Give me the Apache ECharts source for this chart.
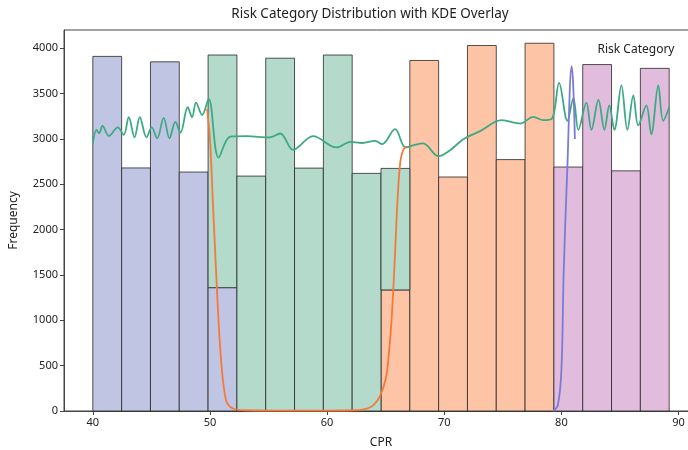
<!DOCTYPE html>
<html><head><meta charset="utf-8">
<script src="https://cdn.jsdelivr.net/npm/echarts@6/dist/echarts.min.js"></script>
<style>html,body{margin:0;padding:0;background:#fff;overflow:hidden}#c{width:688px;height:450px}</style>
</head><body><div id="c"></div>
<script>
// ---- data ----
const binEdges = [40, 42.46, 44.92, 47.38, 49.84, 52.30, 54.76, 57.22, 59.68, 62.14, 64.60,
                  67.06, 69.52, 71.98, 74.44, 76.90, 79.36, 81.82, 84.28, 86.74, 89.20];
const riskLevels = ['Low', 'Moderate', 'High', 'Critical'];
const lowCounts      = [3910, 2680, 3850, 2635, 1360, 0, 0, 0, 0, 0, 0, 0, 0, 0, 0, 0, 0, 0, 0, 0];
const moderateCounts = [0, 0, 0, 0, 2565, 2590, 3890, 2678, 3925, 2620, 1340, 0, 0, 0, 0, 0, 0, 0, 0, 0];
const highCounts     = [0, 0, 0, 0, 0, 0, 0, 0, 0, 0, 1335, 3865, 2580, 4030, 2772, 4055, 0, 0, 0, 0];
const criticalCounts = [0, 0, 0, 0, 0, 0, 0, 0, 0, 0, 0, 0, 0, 0, 0, 0, 2690, 3820, 2648, 3778];

const kdeGreen = [[40.00,2952],[40.32,3099],[40.54,3062],[40.83,3143],[41.37,3033],[42.13,3128],[42.64,3044],
  [43.07,3239],[43.56,3018],[44.01,3239],[44.58,3018],[45.03,3128],[45.49,3007],[46.05,3231],[46.54,3007],
  [47.05,3187],[47.48,3069],[48.10,3349],[48.47,3239],[48.81,3400],[49.33,3264],[49.89,3441],[50.74,2793],
  [51.74,3025],[53.2,3030],[54.3,3020],[55.1,3016],[56.0,3060],[57.1,2880],[58.8,3030],[60.8,2906],[62.0,2968],
  [63.0,2955],[64.1,2979],[64.7,2942],[65.8,3107],[66.7,2906],[67.4,2931],[68.2,2950],[69.5,2810],[70.5,2876],
  [71.6,2994],[73.1,3089],[74.9,3207],[76.5,3170],[77.6,3243],[78.45,3207],[79.2,3225],[79.8,3618],[80.51,3200],
  [81.02,3450],[81.45,3100],[82.13,3400],[82.56,3100],[83.16,3430],[83.67,3100],[84.09,3370],[84.52,3100],
  [85.12,3590],[85.63,3100],[86.14,3480],[86.56,3150],[87.25,3370],[87.67,3050],[88.27,3590],[88.69,3200],[89.2,3350]];
const kdeOrange = [[49.75,3330],[50.0,3000],[50.25,2300],[50.5,1600],[50.75,950],[51.0,480],[51.25,200],[51.5,80],
  [52.0,25],[53.0,8],[55.0,5],[60.0,5],[62.5,8],[63.0,15],[63.5,30],[64.0,70],[64.5,160],[65.0,350],[65.25,600],
  [65.5,1000],[65.75,1600],[66.0,2300],[66.25,2750],[66.5,2880],[66.8,2920]];
const kdePurple = [[79.3,0],[79.7,66],[80.0,452],[80.2,1554],[80.5,2656],[80.87,3800],[81.0,3614],[81.15,3000]];

const xTicks = [40, 50, 60, 70, 80, 90];
const yTicks = [0, 500, 1000, 1500, 2000, 2500, 3000, 3500, 4000];

// ---- build ----
const fills = {Low:'#c0c5e3', Moderate:'#b3dacb', High:'#fdc4a6', Critical:'#e1bcdd'};
const countsBy = {Low:lowCounts, Moderate:moderateCounts, High:highCounts, Critical:criticalCounts};
const stackOrder = ['Low', 'High', 'Critical', 'Moderate'];
const base = new Array(binEdges.length - 1).fill(0);
const barSeries = [];
stackOrder.forEach(function (lvl) {
  const data = [];
  countsBy[lvl].forEach(function (c, i) {
    if (c > 0) { data.push([binEdges[i], binEdges[i + 1], base[i], base[i] + c]); base[i] += c; }
  });
  barSeries.push({
    type: 'custom', name: lvl, z: 2,
    encode: {x: [0, 1], y: [2, 3]},
    data: data,
    renderItem: function (params, api) {
      const p0 = api.coord([api.value(0), api.value(3)]);
      const p1 = api.coord([api.value(1), api.value(2)]);
      return {type: 'rect', shape: {x: p0[0], y: p0[1], width: p1[0] - p0[0], height: p1[1] - p0[1]},
        style: {fill: fills[lvl], stroke: 'rgba(40,40,40,0.8)', lineWidth: 1}};
    }
  });
});
function kdeLine(data, color) {
  return {type: 'line', data: data, showSymbol: false, smooth: 0.35, z: 5,
    lineStyle: {color: color, width: 1.8}, silent: true};
}

const chart = echarts.init(document.getElementById('c'), null, {renderer: 'canvas'});
const font = 'Noto Sans';
chart.setOption({
  animation: false,
  backgroundColor: '#fff',
  grid: {left: 64, right: -10, top: 30, bottom: 39, outerBoundsMode: 'none', containLabel: false,
    show: true, borderColor: '#444', borderWidth: 1, backgroundColor: 'transparent'},
  xAxis: {
    type: 'value', min: 37.54, max: 91.66,
    name: 'CPR', nameLocation: 'middle', nameGap: 26,
    nameTextStyle: {fontFamily: font, fontSize: 12, color: '#222'},
    axisLine: {show: true, lineStyle: {color: '#444'}},
    axisTick: {show: true, length: 4, customValues: xTicks, lineStyle: {color: '#444'}},
    axisLabel: {customValues: xTicks, fontFamily: font, fontSize: 11, color: '#222', margin: 6,
      formatter: function (v) { return String(v); }},
    splitLine: {show: false}
  },
  yAxis: {
    type: 'value', min: 0, max: 4201,
    name: 'Frequency', nameLocation: 'middle', nameGap: 44,
    nameTextStyle: {fontFamily: font, fontSize: 12, color: '#222'},
    axisLine: {show: true, lineStyle: {color: '#444'}},
    axisTick: {show: true, length: 4, customValues: yTicks, lineStyle: {color: '#444'}},
    axisLabel: {customValues: yTicks, fontFamily: font, fontSize: 11, color: '#222', margin: 6,
      formatter: function (v) { return String(v); }},
    splitLine: {show: false}
  },
  graphic: [
    {type: 'text', x: 370, y: 14, style: {text: 'Risk Category Distribution with KDE Overlay', fontFamily: font, fontSize: 13.5, fill: '#222', align: 'center', verticalAlign: 'middle'}},
    {type: 'text', x: 636, y: 50, style: {text: 'Risk Category', fontFamily: font, fontSize: 12, fill: '#222', align: 'center', verticalAlign: 'middle'}}
  ],
  series: barSeries.concat([
    kdeLine(kdeGreen, '#3caa82'),
    kdeLine(kdeOrange, '#f47a3a'),
    kdeLine(kdePurple, '#7b7bd6')
  ])
});
</script></body></html>
